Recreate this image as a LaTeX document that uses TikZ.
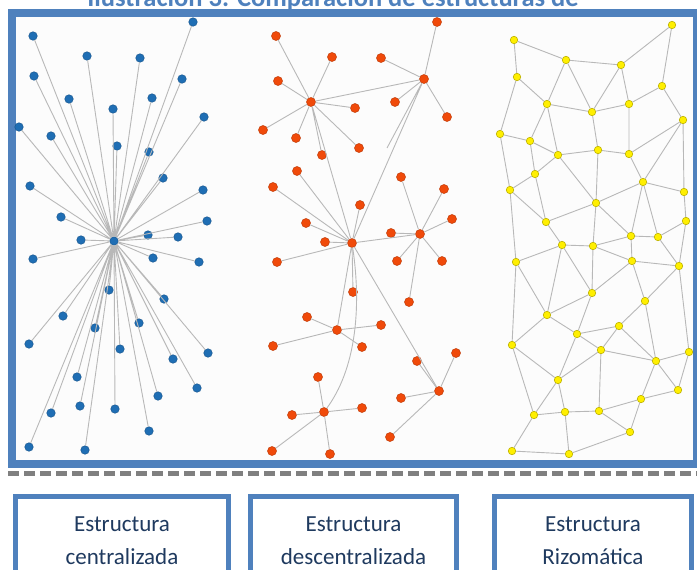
\documentclass[tikz,border=0pt]{standalone}
\usepackage{fontspec}
\setmainfont{Carlito}
\usepackage{tikz}
\usetikzlibrary{shapes.geometric,positioning,calc}
\definecolor{frameblue}{HTML}{4F81BD}
\definecolor{textnavy}{HTML}{1F3A5F}
\definecolor{dotblue}{HTML}{1F6EB4}
\definecolor{dotorange}{HTML}{F04A0A}
\definecolor{dotyellow}{HTML}{FFEF00}
\tikzstyle{bluedot} = [circle, fill = dotblue, draw = dotblue!80!black, line width = 0.5pt, inner sep = 0pt, minimum size = 8.5pt]
\tikzstyle{orangedot} = [circle, fill = dotorange, draw = dotorange!80!black, line width = 0.5pt, inner sep = 0pt, minimum size = 9pt]
\tikzstyle{yellowdot} = [circle, fill = dotyellow, draw = dotyellow!75!black, line width = 0.6pt, inner sep = 0pt, minimum size = 7.5pt]
\tikzstyle{edge} = [draw = black!28, line width = 0.9pt]
\tikzstyle{namebox} = [rectangle, draw = frameblue, line width = 5pt, fill = white, anchor = north, inner xsep = 0pt, inner ysep = 21pt, align = center, text = textnavy, font = \fontsize{23}{33}\selectfont]
\tikzstyle{titletext} = [text = frameblue, font = \fontsize{26.5}{30}\selectfont\bfseries, inner sep = 0pt]

\begin{document}
\begin{tikzpicture}[x = 1pt, y = -1pt]
    \useasboundingbox (0,0) rectangle (697,570);
    \node (title) [titletext, anchor = base] at (333,6) {Ilustración 3. Comparación de estructuras de};
    \draw [frameblue, line width = 8pt, fill = black!1] (12,13) rectangle (697,464);
    \draw [black!50, line width = 5pt, dash pattern = on 11pt off 5pt] (8,473.5) -- (697,473.5);

    % centralizada
    \node (c) [bluedot] at (114,241) {};
    \node (b1) [bluedot] at (193,22) {};
    \node (b2) [bluedot] at (33,36) {};
    \node (b3) [bluedot] at (87,56) {};
    \node (b4) [bluedot] at (140,58) {};
    \node (b5) [bluedot] at (34,76) {};
    \node (b6) [bluedot] at (182,79) {};
    \node (b7) [bluedot] at (69,99) {};
    \node (b8) [bluedot] at (152,98) {};
    \node (b9) [bluedot] at (113,109) {};
    \node (b10) [bluedot] at (204,117) {};
    \node (b11) [bluedot] at (19,127) {};
    \node (b12) [bluedot] at (51,136) {};
    \node (b13) [bluedot] at (117,146) {};
    \node (b14) [bluedot] at (149,152) {};
    \node (b15) [bluedot] at (163,178) {};
    \node (b16) [bluedot] at (30,186) {};
    \node (b17) [bluedot] at (203,190) {};
    \node (b18) [bluedot] at (61,217) {};
    \node (b19) [bluedot] at (207,221) {};
    \node (b20) [bluedot] at (81,240) {};
    \node (b21) [bluedot] at (148,235) {};
    \node (b22) [bluedot] at (178,237) {};
    \node (b23) [bluedot] at (33,259) {};
    \node (b24) [bluedot] at (153,258) {};
    \node (b25) [bluedot] at (199,262) {};
    \node (b26) [bluedot] at (109,290) {};
    \node (b27) [bluedot] at (164,299) {};
    \node (b28) [bluedot] at (63,316) {};
    \node (b29) [bluedot] at (95,328) {};
    \node (b30) [bluedot] at (139,323) {};
    \node (b31) [bluedot] at (29,344) {};
    \node (b32) [bluedot] at (120,349) {};
    \node (b33) [bluedot] at (208,353) {};
    \node (b34) [bluedot] at (173,359) {};
    \node (b35) [bluedot] at (77,377) {};
    \node (b36) [bluedot] at (197,388) {};
    \node (b37) [bluedot] at (158,396) {};
    \node (b38) [bluedot] at (51,413) {};
    \node (b39) [bluedot] at (80,406) {};
    \node (b40) [bluedot] at (115,409) {};
    \node (b41) [bluedot] at (149,431) {};
    \node (b42) [bluedot] at (29,447) {};
    \node (b43) [bluedot] at (85,450) {};

    \draw [edge] (c) -- (b1) (c) -- (b2) (c) -- (b3) (c) -- (b4) (c) -- (b5) (c) -- (b6)
        (c) -- (b7) (c) -- (b8) (c) -- (b9) (c) -- (b10) (c) -- (b11) (c) -- (b12)
        (c) -- (b13) (c) -- (b14) (c) -- (b15) (c) -- (b16) (c) -- (b17) (c) -- (b18)
        (c) -- (b19) (c) -- (b20) (c) -- (b21) (c) -- (b22) (c) -- (b23) (c) -- (b24)
        (c) -- (b25) (c) -- (b26) (c) -- (b27) (c) -- (b28) (c) -- (b29) (c) -- (b30)
        (c) -- (b31) (c) -- (b32) (c) -- (b33) (c) -- (b34) (c) -- (b35) (c) -- (b36)
        (c) -- (b37) (c) -- (b38) (c) -- (b39) (c) -- (b40) (c) -- (b41) (c) -- (b42)
        (c) -- (b43);

    % descentralizada
    \node (ha) [orangedot] at (424,79) {};
    \node (hb) [orangedot] at (311,102) {};
    \node (hc) [orangedot] at (352,243) {};
    \node (hd) [orangedot] at (420,234) {};
    \node (he) [orangedot] at (337,330) {};
    \node (hf) [orangedot] at (439,391) {};
    \node (hg) [orangedot] at (324,412) {};
    \coordinate (loose) at (387,148);

    \node (o1) [orangedot] at (276,36) {};
    \node (o2) [orangedot] at (332,57) {};
    \node (o3) [orangedot] at (278,81) {};
    \node (o4) [orangedot] at (355,108) {};
    \node (o5) [orangedot] at (263,130) {};
    \node (o6) [orangedot] at (296,138) {};
    \node (o7) [orangedot] at (359,148) {};
    \node (o8) [orangedot] at (322,155) {};
    \node (o9) [orangedot] at (437,22) {};
    \node (o10) [orangedot] at (381,58) {};
    \node (o11) [orangedot] at (395,102) {};
    \node (o12) [orangedot] at (447,117) {};
    \node (o13) [orangedot] at (297,171) {};
    \node (o14) [orangedot] at (273,187) {};
    \node (o15) [orangedot] at (306,223) {};
    \node (o16) [orangedot] at (360,205) {};
    \node (o17) [orangedot] at (325,242) {};
    \node (o18) [orangedot] at (277,262) {};
    \node (o19) [orangedot] at (353,292) {};
    \node (o20) [orangedot] at (391,233) {};
    \node (o21) [orangedot] at (401,177) {};
    \node (o22) [orangedot] at (444,189) {};
    \node (o23) [orangedot] at (452,219) {};
    \node (o24) [orangedot] at (397,261) {};
    \node (o25) [orangedot] at (442,261) {};
    \node (o26) [orangedot] at (409,302) {};
    \node (o27) [orangedot] at (307,317) {};
    \node (o28) [orangedot] at (381,325) {};
    \node (o29) [orangedot] at (273,346) {};
    \node (o30) [orangedot] at (362,347) {};
    \node (o31) [orangedot] at (456,353) {};
    \node (o32) [orangedot] at (417,361) {};
    \node (o33) [orangedot] at (401,398) {};
    \node (o34) [orangedot] at (390,437) {};
    \node (o35) [orangedot] at (318,377) {};
    \node (o36) [orangedot] at (292,415) {};
    \node (o37) [orangedot] at (362,408) {};
    \node (o38) [orangedot] at (272,451) {};
    \node (o39) [orangedot] at (330,454) {};

    \draw [edge] (hb) -- (o1) (hb) -- (o2) (hb) -- (o3) (hb) -- (o4) (hb) -- (o5)
        (hb) -- (o6) (hb) -- (o7) (hb) -- (o8) (hb) -- (ha) (hb) -- (hc);
    \draw [edge] (ha) -- (o9) (ha) -- (o10) (ha) -- (o11) (ha) -- (o12) (ha) -- (loose) (ha) -- (hc);
    \draw [edge] (hc) -- (o13) (hc) -- (o14) (hc) -- (o15) (hc) -- (o16) (hc) -- (o17)
        (hc) -- (o18) (hc) -- (o19) (hc) -- (hd) (hc) -- (he) (hc) -- (hf);
    \draw [edge] (hc) .. controls (362,310) and (355,370) .. (hg);
    \draw [edge] (hd) -- (o20) (hd) -- (o21) (hd) -- (o22) (hd) -- (o23) (hd) -- (o24)
        (hd) -- (o25) (hd) -- (o26);
    \draw [edge] (he) -- (o27) (he) -- (o28) (he) -- (o29) (he) -- (o30);
    \draw [edge] (hf) -- (o31) (hf) -- (o32) (hf) -- (o33) (hf) -- (o34);
    \draw [edge] (hg) -- (o35) (hg) -- (o36) (hg) -- (o37) (hg) -- (o38) (hg) -- (o39);

    % rizomatica
    \node (y1) [yellowdot] at (672,25) {};
    \node (y2) [yellowdot] at (514,40) {};
    \node (y3) [yellowdot] at (566,60) {};
    \node (y4) [yellowdot] at (621,65) {};
    \node (y5) [yellowdot] at (517,77) {};
    \node (y6) [yellowdot] at (662,86) {};
    \node (y7) [yellowdot] at (547,104) {};
    \node (y8) [yellowdot] at (629,104) {};
    \node (y9) [yellowdot] at (592,112) {};
    \node (y10) [yellowdot] at (683,120) {};
    \node (y11) [yellowdot] at (500,134) {};
    \node (y12) [yellowdot] at (530,141) {};
    \node (y13) [yellowdot] at (558,155) {};
    \node (y14) [yellowdot] at (598,150) {};
    \node (y15) [yellowdot] at (629,154) {};
    \node (y16) [yellowdot] at (535,174) {};
    \node (y17) [yellowdot] at (643,182) {};
    \node (y18) [yellowdot] at (510,190) {};
    \node (y19) [yellowdot] at (684,192) {};
    \node (y20) [yellowdot] at (596,203) {};
    \node (y21) [yellowdot] at (546,222) {};
    \node (y22) [yellowdot] at (686,221) {};
    \node (y23) [yellowdot] at (631,236) {};
    \node (y24) [yellowdot] at (658,237) {};
    \node (y25) [yellowdot] at (562,245) {};
    \node (y26) [yellowdot] at (593,246) {};
    \node (y27) [yellowdot] at (516,262) {};
    \node (y28) [yellowdot] at (632,261) {};
    \node (y29) [yellowdot] at (679,266) {};
    \node (y30) [yellowdot] at (592,293) {};
    \node (y31) [yellowdot] at (645,301) {};
    \node (y32) [yellowdot] at (547,315) {};
    \node (y33) [yellowdot] at (577,334) {};
    \node (y34) [yellowdot] at (619,326) {};
    \node (y35) [yellowdot] at (512,345) {};
    \node (y36) [yellowdot] at (601,350) {};
    \node (y37) [yellowdot] at (656,361) {};
    \node (y38) [yellowdot] at (689,352) {};
    \node (y39) [yellowdot] at (558,380) {};
    \node (y40) [yellowdot] at (678,390) {};
    \node (y41) [yellowdot] at (641,399) {};
    \node (y42) [yellowdot] at (534,415) {};
    \node (y43) [yellowdot] at (565,412) {};
    \node (y44) [yellowdot] at (599,411) {};
    \node (y45) [yellowdot] at (630,432) {};
    \node (y46) [yellowdot] at (512,451) {};
    \node (y47) [yellowdot] at (569,454) {};

    \draw [edge] (y2) -- (y3) (y2) -- (y5) (y3) -- (y4) (y4) -- (y1) (y1) -- (y6)
        (y3) -- (y7) (y3) -- (y9) (y4) -- (y9) (y4) -- (y8) (y5) -- (y7)
        (y5) -- (y11) (y7) -- (y9) (y9) -- (y8) (y8) -- (y6) (y6) -- (y10)
        (y7) -- (y12) (y7) -- (y13) (y9) -- (y14) (y8) -- (y15) (y11) -- (y12)
        (y12) -- (y13) (y13) -- (y14) (y14) -- (y15) (y10) -- (y15) (y10) -- (y17)
        (y10) -- (y19) (y11) -- (y18) (y12) -- (y16) (y13) -- (y16) (y13) -- (y20)
        (y14) -- (y20) (y15) -- (y17);
    \draw [edge] (y16) -- (y18) (y16) -- (y21) (y18) -- (y21) (y18) -- (y27) (y20) -- (y21)
        (y20) -- (y23) (y20) -- (y26) (y20) -- (y17) (y17) -- (y19) (y17) -- (y23)
        (y17) -- (y24) (y19) -- (y22) (y22) -- (y24) (y22) -- (y29) (y21) -- (y25)
        (y25) -- (y26) (y26) -- (y23) (y23) -- (y24) (y23) -- (y28) (y26) -- (y28)
        (y24) -- (y29) (y28) -- (y29) (y27) -- (y25) (y25) -- (y30) (y25) -- (y32)
        (y27) -- (y32) (y28) -- (y30) (y28) -- (y31) (y29) -- (y31);
    \draw [edge] (y26) -- (y30) (y29) -- (y38) (y27) -- (y35) (y30) -- (y32) (y30) -- (y33)
        (y31) -- (y34) (y31) -- (y37) (y32) -- (y33) (y32) -- (y35) (y33) -- (y34)
        (y33) -- (y36) (y34) -- (y36) (y34) -- (y37) (y33) -- (y39) (y35) -- (y39)
        (y35) -- (y42) (y36) -- (y37) (y36) -- (y39) (y36) -- (y44) (y37) -- (y38)
        (y37) -- (y40) (y37) -- (y41) (y38) -- (y40) (y39) -- (y42) (y39) -- (y43)
        (y42) -- (y43) (y43) -- (y44) (y44) -- (y41) (y41) -- (y40) (y44) -- (y45)
        (y41) -- (y45) (y42) -- (y46) (y43) -- (y47) (y46) -- (y47) (y47) -- (y45);

    \node (central) [namebox, minimum width = 213pt] at (122,493.5) {Estructura\\centralizada};
    \node (descentral) [namebox, minimum width = 206pt] at (353.5,493.5) {Estructura\\descentralizada};
    \node (rizoma) [namebox, minimum width = 197pt] at (593,493.5) {Estructura\\Rizomática};
\end{tikzpicture}
\end{document}
